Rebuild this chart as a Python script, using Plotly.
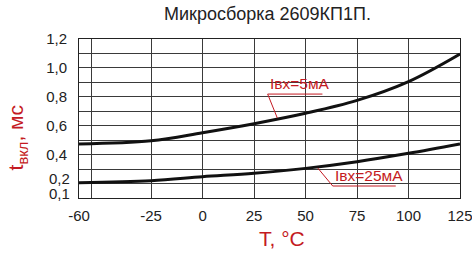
import plotly.graph_objects as go

# Data
temps = [-60, -25, 0, 25, 50, 75, 100, 125]
t_on_5mA = [0.474, 0.496, 0.552, 0.614, 0.686, 0.775, 0.905, 1.096]
t_on_25mA = [0.206, 0.220, 0.247, 0.271, 0.305, 0.351, 0.409, 0.474]

x_tickvals = [-60, -54, -25, 0, 25, 50, 75, 100, 125]
x_ticktext = ["-60", "", "-25", "0", "25", "50", "75", "100", "125"]
y_tickvals = [0.1, 0.2, 0.3, 0.4, 0.5, 0.6, 0.7, 0.8, 0.9, 1.0, 1.1, 1.2]
y_ticktext = ["", "", "", "0,4", "", "0,6", "", "0,8", "", "1,0", "", "1,2"]
# the two lowest labels sit slightly raised in the original
low_labels = [(0.232, "0,2"), (0.132, "0,1")]

title = "Микросборка 2609КП1П."
label_5 = "Iвх=5мА"
label_25 = "Iвх=25мА"
x_title = "T, °C"
y_title = "t<sub>вкл</sub>, мс"

RED = "#c41a22"
FONT = "Liberation Sans, Arial, sans-serif"

fig = go.Figure()
fig.add_trace(go.Scatter(x=temps, y=t_on_5mA, mode="lines", line=dict(color="#111", width=3, shape="spline", smoothing=1),
                         showlegend=False, hoverinfo="skip"))
fig.add_trace(go.Scatter(x=temps, y=t_on_25mA, mode="lines", line=dict(color="#111", width=3, shape="spline", smoothing=1),
                         showlegend=False, hoverinfo="skip"))

# leader annotations
lab5 = dict(x0=31.6, x1=58.2, y=0.819, px=36.3, py=0.653)
lab25 = dict(x0=63.2, x1=93.8, y=0.183, px=55.9, py=0.308)
for lab, txt in ((lab5, label_5), (lab25, label_25)):
    fig.add_shape(type="line", x0=lab["x0"], x1=lab["x1"], y0=lab["y"], y1=lab["y"],
                  line=dict(color=RED, width=1))
    fig.add_shape(type="line", x0=lab["x0"], x1=lab["px"], y0=lab["y"], y1=lab["py"],
                  line=dict(color=RED, width=1))
    fig.add_annotation(x=lab["x0"] + 0.8, y=lab["y"], xanchor="left", yanchor="bottom", text=txt,
                       showarrow=False, font=dict(family=FONT, size=15.5, color=RED), borderpad=0, yshift=1)

for yv, txt in low_labels:
    fig.add_annotation(xref="paper", x=0, y=yv, xanchor="right", yanchor="middle", xshift=-8, text=txt,
                       showarrow=False, font=dict(family=FONT, size=15, color="#222"), borderpad=0)

fig.add_annotation(xref="paper", yref="paper", x=-0.2025, y=0.38, text=y_title, textangle=-90,
                   showarrow=False, font=dict(family=FONT, size=21, color=RED))
fig.add_annotation(xref="paper", yref="paper", x=0.533, y=-0.252, yanchor="middle", text=x_title,
                   showarrow=False, font=dict(family=FONT, size=21, color=RED))
fig.add_annotation(xref="paper", yref="paper", x=0.495, y=1.155, yanchor="middle", text=title,
                   showarrow=False, font=dict(family=FONT, size=18, color="#222"))

axis_common = dict(showline=True, linecolor="#222", linewidth=1, mirror=True, ticks="",
                   gridcolor="#3a3a3a", gridwidth=1, zeroline=False,
                   tickfont=dict(family=FONT, size=15, color="#222"), fixedrange=True,
                   ticklabeloverflow="allow")
fig.update_xaxes(range=[-60, 125], tickmode="array", tickvals=x_tickvals, ticktext=x_ticktext,
                 ticklabelstandoff=4, **axis_common)
fig.update_yaxes(range=[0.1, 1.2], tickmode="array", tickvals=y_tickvals, ticktext=y_ticktext,
                 ticklabelstandoff=8, **axis_common)

fig.update_layout(width=472, height=253, margin=dict(l=79, r=12, t=39, b=55, autoexpand=False),
                  plot_bgcolor="white", paper_bgcolor="white", font=dict(family=FONT))
fig.write_html("out.html", config=dict(displayModeBar=False, staticPlot=True),
               post_script="document.body.style.margin='0';document.body.style.overflow='hidden';")
